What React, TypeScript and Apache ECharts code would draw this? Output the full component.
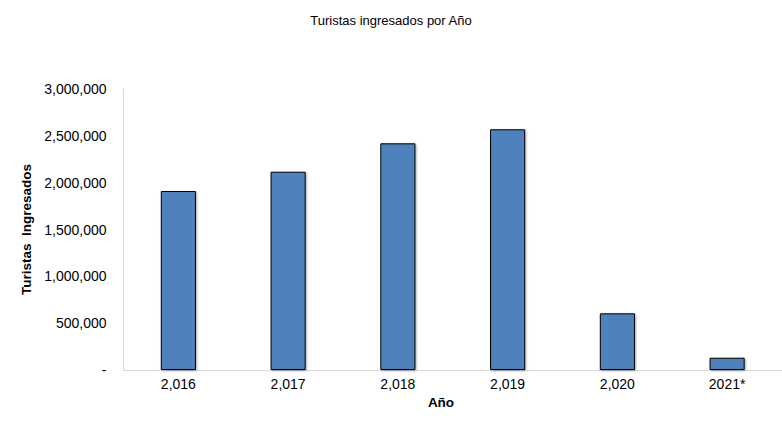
import React, { useEffect, useRef } from "react";
import * as echarts from "echarts";

const categories = ["2,016", "2,017", "2,018", "2,019", "2,020", "2021*"];
const turistas = [1911000, 2117000, 2420000, 2570000, 605000, 131000];
const yTicks = { min: 0, max: 3000000, interval: 500000 };

export default function App() {
  const ref = useRef<HTMLDivElement>(null);
  useEffect(() => {
    if (!ref.current) return;
    const chart = echarts.init(ref.current, undefined, { renderer: "svg" });
    const font = "Liberation Sans, Arial, sans-serif";
    chart.setOption({
      animation: false,
      backgroundColor: "#ffffff",
      title: {
        text: "Turistas ingresados por Año",
        left: "center",
        top: 9,
        textStyle: { fontFamily: font, fontSize: 13, fontWeight: "normal", color: "#000" },
      },
      grid: { left: 123.5, top: 89, width: 666, height: 281, containLabel: false },
      xAxis: {
        type: "category",
        data: categories,
        axisLine: { lineStyle: { color: "#d9d9d9", width: 1 } },
        axisTick: { show: false },
        axisLabel: { fontFamily: font, fontSize: 14, color: "#000", margin: 7 },
      },
      yAxis: {
        type: "value",
        min: yTicks.min,
        max: yTicks.max,
        interval: yTicks.interval,
        name: "Turistas  Ingresados",
        nameLocation: "middle",
        nameGap: 82,
        nameTextStyle: { fontFamily: font, fontSize: 13.5, fontWeight: "bold", color: "#000" },
        axisLine: { show: true, lineStyle: { color: "#d9d9d9", width: 1 } },
        axisTick: { show: false },
        splitLine: { show: false },
        axisLabel: {
          fontFamily: font,
          fontSize: 14,
          color: "#000",
          margin: 17,
          formatter: (v: number) => (v === 0 ? "-" : v.toLocaleString("en-US")),
        },
      },
      graphic: [
        {
          type: "text",
          x: 441,
          y: 402,
          style: {
            text: "Año",
            fontFamily: font,
            fontSize: 13.5,
            fontWeight: "bold",
            fill: "#000",
            textAlign: "center",
            textVerticalAlign: "middle",
          },
        },
      ],
      series: [
        {
          type: "bar",
          data: turistas,
          barWidth: "32%",
          itemStyle: {
            color: "#4f81bd",
            borderColor: "#000",
            borderWidth: 1,
            shadowColor: "rgba(0,0,0,0.35)",
            shadowBlur: 2,
            shadowOffsetX: 1,
            shadowOffsetY: 1,
          },
        },
      ],
    });
    return () => chart.dispose();
  }, []);
  return <div ref={ref} style={{ width: 782, height: 435, position: "absolute", left: 0, top: 0 }} />;
}
